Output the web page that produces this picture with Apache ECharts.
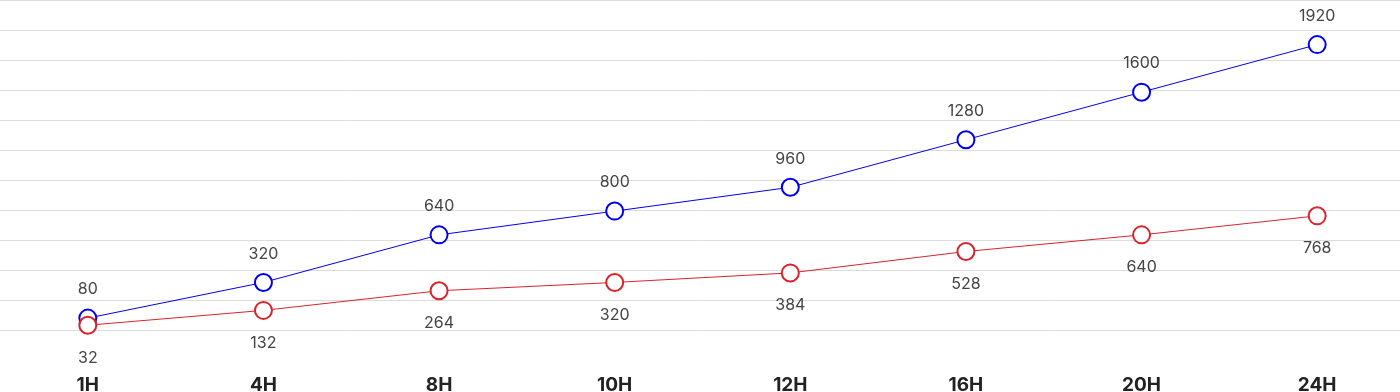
<!DOCTYPE html>
<html>
<head>
<meta charset="utf-8">
<script src="https://cdn.jsdelivr.net/npm/echarts@6/dist/echarts.min.js"></script>
<style>
html,body{margin:0;padding:0;background:#fff;}
#c{width:1400px;height:392px;}
</style>
</head>
<body>
<div id="c"></div>
<script>
const categories = ['1H', '4H', '8H', '10H', '12H', '16H', '20H', '24H'];
const blueValues = [80, 320, 640, 800, 960, 1280, 1600, 1920];
const redValues = [32, 132, 264, 320, 384, 528, 640, 768];
const yMax = 2220;
const ySplits = 11;

const chart = echarts.init(document.getElementById('c'));
const labelStyle = { fontFamily: 'Inter', fontSize: 16, color: '#444' };
chart.setOption({
  animation: false,
  textStyle: { fontFamily: 'Inter' },
  grid: { left: 0, width: 1405, top: 0, bottom: 62, containLabel: false, outerBoundsMode: 'none' },
  xAxis: {
    type: 'category',
    data: categories,
    boundaryGap: true,
    axisLine: { show: false },
    axisTick: { show: false },
    axisLabel: { margin: 46, fontSize: 19, fontWeight: 'bold', color: '#222', fontFamily: 'Inter' }
  },
  yAxis: {
    type: 'value',
    min: 0,
    max: yMax,
    interval: yMax / ySplits,
    axisLabel: { show: false },
    axisLine: { show: false },
    axisTick: { show: false },
    splitLine: { lineStyle: { color: '#dcdcdc', width: 1 } }
  },
  series: [
    {
      type: 'line',
      data: blueValues,
      symbol: 'circle',
      symbolSize: 17,
      lineStyle: { color: '#0000ee', width: 1 },
      itemStyle: { color: '#fff', borderColor: '#0000ee', borderWidth: 2 },
      label: Object.assign({ show: true, position: 'top', distance: 11 }, labelStyle),
      z: 3
    },
    {
      type: 'line',
      data: redValues,
      symbol: 'circle',
      symbolSize: 17,
      lineStyle: { color: '#d9232b', width: 1 },
      itemStyle: { color: '#fff', borderColor: '#d9232b', borderWidth: 2 },
      label: Object.assign({ show: true, position: 'bottom', distance: 15 }, labelStyle),
      z: 4
    }
  ]
});
</script>
</body>
</html>
